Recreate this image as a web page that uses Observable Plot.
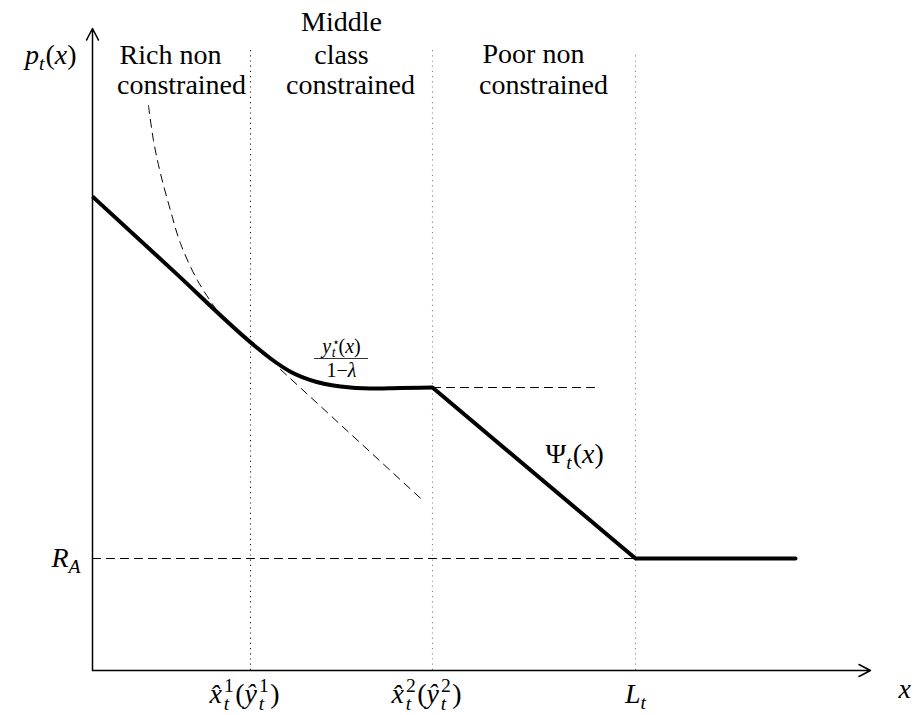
<!DOCTYPE html>
<html><head><meta charset="utf-8">
<script src="https://cdn.jsdelivr.net/npm/d3@7"></script>
<script src="https://cdn.jsdelivr.net/npm/@observablehq/plot@0.6"></script>
<style>body{margin:0;background:#fff} svg{display:block}</style>
</head><body><div id="chart"></div>
<script>
// ---- data (diagram units) ----
const thresholds = [3.95, 8.5, 13.575];          // x̂1, x̂2, L_t
const thresholdLabels = ["x̂¹ₜ(ŷ¹ₜ)", "x̂²ₜ(ŷ²ₜ)", "Lₜ"];
const thresholdTop = [15.55, 15.55, 15.45];
const RA = 2.8;
const RALabel = "R_A";
const richLine = [{x: 0, y: 11.85}, {x: 2, y: 10.01}, {x: 4.075, y: 8.1}, {x: 4.45, y: 7.8},
  {x: 4.95, y: 7.47}, {x: 5.45, y: 7.26}, {x: 6.2, y: 7.1}, {x: 6.95, y: 7.05}, {x: 7.7, y: 7.065}, {x: 8.5, y: 7.075}];
const poorLine = [{x: 8.5, y: 7.075}, {x: 13.575, y: 2.8}, {x: 17.575, y: 2.8}];
const unconstrainedCurve = [{x: 1.4, y: 14.125}, {x: 1.525, y: 13.25}, {x: 1.7, y: 12.425},
  {x: 1.95, y: 11.5}, {x: 2.2, y: 10.675}, {x: 2.625, y: 9.75}, {x: 3.075, y: 9.05}];
const tangentDash = [{x: 4.7, y: 7.526}, {x: 8.2, y: 4.306}];
const flatDash = [{x: 8.5, y: 7.075}, {x: 12.7, y: 7.075}];
const raDash = [{x: 0, y: RA}, {x: 13.575, y: RA}];
const axesArrows = [{x1: 0, y1: 0, x2: 19.45, y2: 0}, {x1: 0, y1: 0, x2: 0, y2: 16.05}];
const regionLines = ["Rich non", "constrained", "Middle", "class", "constrained", "Poor non", "constrained"];

// ---- annotation placement ----
const regionPos = [[1.95, 15.175], [2.225, 14.425], [6.225, 16], [6.225, 15.175], [6.45, 14.425], [11.025, 15.2], [11.275, 14.425]];
const regionText = regionLines.map((t, i) => ({text: t, x: regionPos[i][0], y: regionPos[i][1]}));
const mathEnd = [{text: "pₜ(x)", x: -0.4, y: 15.175}];
const mathStart = [{text: "Ψₜ(x)", x: 11.325, y: 5.2}, {text: "xlabel", x: 20.15, y: -0.675}];
const mathFrac = [{text: "y⋆ₜ(x)", x: 6.225, y: 7.95}, {text: "1−λ", x: 6.225, y: 7.33}];
const fracBar = [{x1: 5.55, x2: 6.9, y: 7.8}];

const I = 'font-style="italic"';
const hatScripts = (base, sup, lead) =>
  `<tspan ${I}${lead ? ` dx="${lead}"` : ""}>${base}</tspan><tspan font-size="19.6" dy="-11" dx="2">${sup}</tspan><tspan ${I} font-size="19.6" dx="-10" dy="18">t</tspan>`;
const rich = {
  "pₜ(x)": `<tspan ${I}>p</tspan><tspan ${I} font-size="19.6" dy="6">t</tspan><tspan dy="-6" dx="1">(</tspan><tspan ${I}>x</tspan><tspan>)</tspan>`,
  "Ψₜ(x)": `<tspan>Ψ</tspan><tspan ${I} font-size="19.6" dy="6">t</tspan><tspan dy="-6" dx="1">(</tspan><tspan ${I}>x</tspan><tspan>)</tspan>`,
  "y⋆ₜ(x)": `<tspan ${I}>y</tspan><tspan font-size="12" dy="-7" dx="1" style="font-family:'DejaVu Sans'">⋆</tspan><tspan ${I} font-size="14" dx="-8" dy="11">t</tspan><tspan dy="-4" dx="3">(</tspan><tspan ${I}>x</tspan><tspan>)</tspan>`,
  "1−λ": `<tspan>1−</tspan><tspan ${I}>λ</tspan>`,
  "xlabel": `<tspan ${I}>x</tspan>`,
  "R_A": `<tspan ${I}>R</tspan><tspan ${I} font-size="19.6" dy="6">A</tspan>`,
  "Lₜ": `<tspan ${I}>L</tspan><tspan ${I} font-size="19.6" dy="6">t</tspan>`,
  "x̂¹ₜ(ŷ¹ₜ)": hatScripts("x̂", "1", -6) + `<tspan dy="-7" dx="6">(</tspan>` + hatScripts("ŷ", "1") + `<tspan dy="-7" dx="6">)</tspan>`,
  "x̂²ₜ(ŷ²ₜ)": hatScripts("x̂", "2", -6) + `<tspan dy="-7" dx="6">(</tspan>` + hatScripts("ŷ", "2") + `<tspan dy="-7" dx="6">)</tspan>`
};

const font = "Liberation Serif";
const dash = "8,6";
const txt = {x: "x", y: "y", text: "text", lineAnchor: "bottom", fontFamily: font, fill: "#000"};

const chart = Plot.plot({
  width: 914, height: 715,
  marginLeft: 92, marginRight: 0, marginTop: 0, marginBottom: 45,
  x: {domain: [0, 20.55]},
  y: {domain: [0, 16.75]},
  style: {fontFamily: font, fontSize: "28px", background: "#fff", color: "#000"},
  marks: [
    Plot.ruleX(thresholds.map((x, i) => ({x, top: thresholdTop[i], i})), {
      x: "x", y1: 0, y2: "top", stroke: d => d.i === 0 ? "#222" : "#888",
      strokeWidth: 1.1, strokeDasharray: "1.2,4"
    }),
    Plot.line(raDash, {x: "x", y: "y", stroke: "#000", strokeWidth: 1, strokeDasharray: dash}),
    Plot.line(flatDash, {x: "x", y: "y", stroke: "#000", strokeWidth: 1, strokeDasharray: dash}),
    Plot.line(tangentDash, {x: "x", y: "y", stroke: "#000", strokeWidth: 1, strokeDasharray: dash}),
    Plot.line(unconstrainedCurve, {x: "x", y: "y", curve: "catmull-rom", stroke: "#000", strokeWidth: 1, strokeDasharray: dash}),
    Plot.line(richLine, {x: "x", y: "y", curve: "monotone-x", stroke: "#000", strokeWidth: 4, strokeLinecap: "butt"}),
    Plot.line(poorLine, {x: "x", y: "y", stroke: "#000", strokeWidth: 4, strokeLinejoin: "miter"}),
    Plot.arrow(axesArrows, {x1: "x1", y1: "y1", x2: "x2", y2: "y2", stroke: "#000", strokeWidth: 1.5, headLength: 13, headAngle: 55}),
    Plot.axisX({ticks: thresholds, tickFormat: (d, i) => thresholdLabels[i], tickSize: 0, tickPadding: 13, label: null, fontSize: 28, fontFamily: font}),
    Plot.axisY({ticks: [RA], tickFormat: () => RALabel, tickSize: 0, tickPadding: 12, label: null, fontSize: 28, fontFamily: font}),
    Plot.text(regionText, {...txt, textAnchor: "middle", fontSize: 28}),
    Plot.text(mathEnd, {...txt, textAnchor: "end", fontSize: 28}),
    Plot.text(mathStart, {...txt, textAnchor: "start", fontSize: 28}),
    Plot.text(mathFrac, {...txt, textAnchor: "middle", fontSize: 20}),
    Plot.ruleY(fracBar, {x1: "x1", x2: "x2", y: "y", stroke: "#000", strokeWidth: 0.8})
  ]
});

chart.querySelectorAll("text").forEach(t => {
  const k = t.textContent;
  if (rich[k]) t.innerHTML = rich[k];
});
document.getElementById("chart").appendChild(chart);
</script>
</body></html>
